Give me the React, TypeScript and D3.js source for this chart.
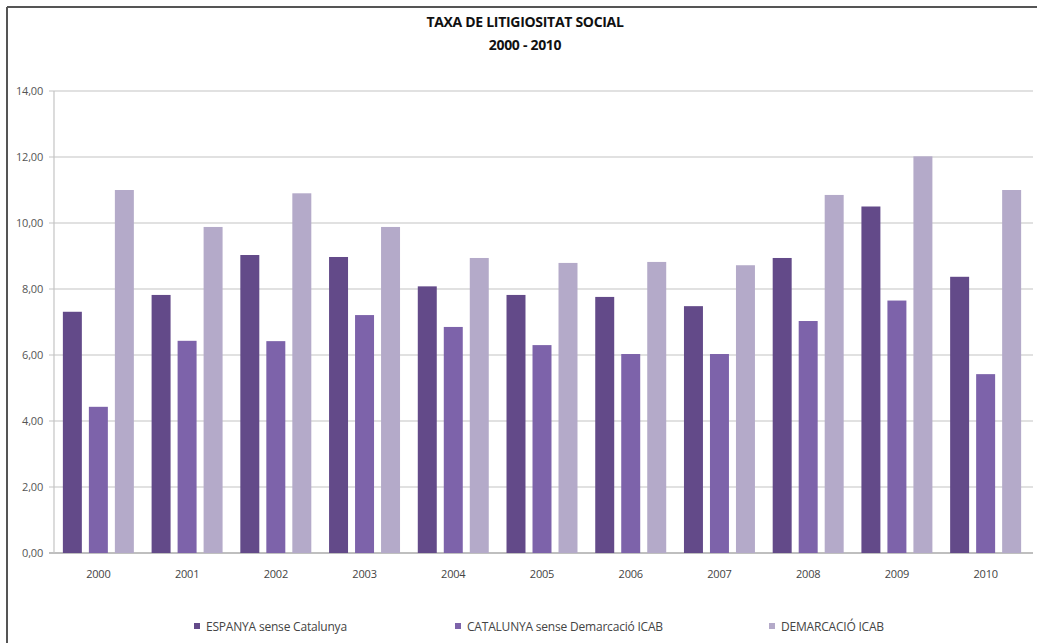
import React from "react";
import * as d3 from "d3";

const categories = ["2000","2001","2002","2003","2004","2005","2006","2007","2008","2009","2010"];
const seriesNames = ["ESPANYA sense Catalunya","CATALUNYA sense Demarcació ICAB","DEMARCACIÓ ICAB"];
const espanya = [7.31,7.82,9.03,8.97,8.08,7.82,7.76,7.48,8.94,10.5,8.37];
const catalunya = [4.43,6.43,6.42,7.21,6.85,6.3,6.03,6.03,7.03,7.65,5.42];
const icab = [11.0,9.88,10.9,9.88,8.94,8.79,8.82,8.72,10.85,12.02,11.0];
const yTicks = [0,2,4,6,8,10,12,14];
const colors = ["#634a89","#7d63aa","#b4aac9"];

const W = 1037, H = 643;
const left = 54, right = 1030, top = 91, bottom = 553;

export default function App() {
  const series = [espanya, catalunya, icab];
  const x0 = d3.scaleBand().domain(categories).range([left, right]).padding(0);
  const xs = d3.scaleBand().domain(["0","1","2"]).range([0, x0.bandwidth() * 0.8]).paddingInner(0.27);
  const y = d3.scaleLinear().domain([0, 14]).range([bottom, top]);
  const fmt = (v: number) => v.toFixed(2).replace(".", ",");
  const font = "'Open Sans', sans-serif";
  const legendX = [197, 458, 772];
  return (
    <svg width={W} height={H} style={{ position: "absolute", left: 0, top: 0, background: "#fff" }}>
      <rect x={0} y={0} width={W} height={H} fill="#fff" />
      <line x1={7} y1={7} x2={W} y2={7} stroke="#555" strokeWidth={2} />
      <line x1={7} y1={7} x2={7} y2={H} stroke="#555" strokeWidth={2} />
      <text x={525} y={27} textAnchor="middle" fontFamily={font} fontWeight={700} fontSize={14} letterSpacing={-0.3} fill="#111">TAXA DE LITIGIOSITAT SOCIAL</text>
      <text x={525} y={50} textAnchor="middle" fontFamily={font} fontWeight={700} fontSize={14} letterSpacing={-0.3} fill="#111">2000 - 2010</text>
      {yTicks.map(t => (
        <g key={t}>
          <line x1={left - 5} x2={1033} y1={y(t)} y2={y(t)} stroke={t === 0 ? "#aaa" : "#c4c4c4"} strokeWidth={t === 0 ? 1.5 : 1.2} />
          <text x={43} y={y(t) + 4} textAnchor="end" fontFamily={font} fontSize={11} letterSpacing={-0.2} fill="#555">{fmt(t)}</text>
        </g>
      ))}
      <line x1={left} x2={left} y1={top} y2={bottom} stroke="#c4c4c4" strokeWidth={1.2} />
      {categories.map((c, i) => (
        <g key={c}>
          {series.map((s, k) => (
            <rect key={k}
              x={(x0(c) as number) + x0.bandwidth() * 0.1 + (xs(String(k)) as number)}
              y={y(s[i])} width={xs.bandwidth()} height={bottom - y(s[i])} fill={colors[k]} />
          ))}
          <text x={(x0(c) as number) + x0.bandwidth() / 2} y={578} textAnchor="middle" fontFamily={font} fontSize={11} letterSpacing={-0.2} fill="#444">{c}</text>
        </g>
      ))}
      {seriesNames.map((n, k) => (
        <g key={n}>
          <rect x={legendX[k] - 3} y={623} width={6} height={6} fill={colors[k]} />
          <text x={legendX[k] + 9} y={631} fontFamily={font} fontSize={12} letterSpacing={-0.2} fill="#444">{n}</text>
        </g>
      ))}
    </svg>
  );
}
